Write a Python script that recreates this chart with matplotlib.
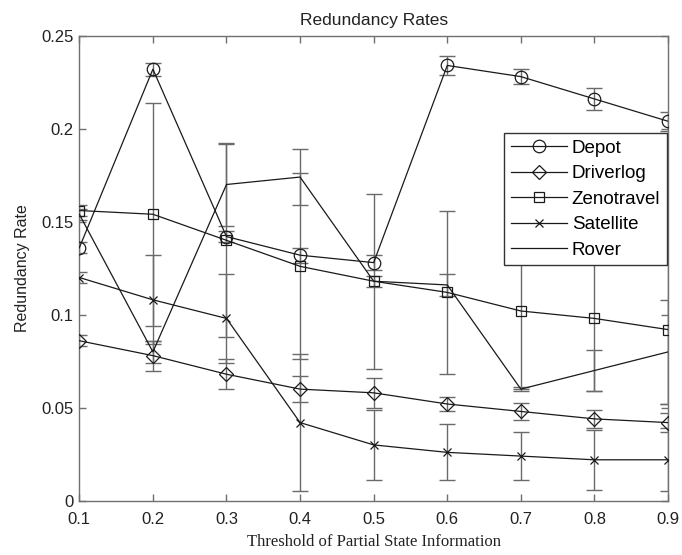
import matplotlib
matplotlib.use("Agg")
import matplotlib.pyplot as plt

thresholds = [0.1, 0.2, 0.3, 0.4, 0.5, 0.6, 0.7, 0.8, 0.9]

depot = [0.136, 0.232, 0.142, 0.132, 0.128, 0.234, 0.228, 0.216, 0.204]
depot_err = [0.003, 0.0035, 0.003, 0.004, 0.004, 0.005, 0.004, 0.006, 0.005]

driverlog = [0.086, 0.078, 0.068, 0.060, 0.058, 0.052, 0.048, 0.044, 0.042]
driverlog_err = [0.003, 0.008, 0.008, 0.007, 0.008, 0.004, 0.0045, 0.005, 0.005]

zenotravel = [0.156, 0.154, 0.140, 0.126, 0.118, 0.112, 0.102, 0.098, 0.092]
zenotravel_err = [0.003, 0.060, 0.052, 0.050, 0.047, 0.044, 0.042, 0.039, 0.040]

satellite = [0.120, 0.108, 0.098, 0.042, 0.030, 0.026, 0.024, 0.022, 0.022]
satellite_err = [0.003, 0.024, 0.024, 0.037, 0.019, 0.015, 0.013, 0.016, 0.017]

rover = [0.154, 0.080, 0.170, 0.174, 0.118, 0.116, 0.060, 0.070, 0.080]
rover_err = [0.003, 0.006, 0.0225, 0.015, 0.003, 0.006, 0.001, 0.011, 0.028]

series_names = ["Depot", "Driverlog", "Zenotravel", "Satellite", "Rover"]
ytick_vals = [0, 0.05, 0.1, 0.15, 0.2, 0.25]
ytick_labels = ["0", "0.05", "0.1", "0.15", "0.2", "0.25"]
xtick_labels = ["0.1", "0.2", "0.3", "0.4", "0.5", "0.6", "0.7", "0.8", "0.9"]

plt.rcParams['font.family'] = ['Liberation Sans', 'DejaVu Sans']

fig = plt.figure(figsize=(6.82, 5.55), dpi=100)
ax = fig.add_axes([0.1163, 0.0978, 0.8632, 0.8379])

line_col = '#1a1a1a'
err_col = '#6a6a6a'

data = [
    (depot, depot_err, 'o', 9),
    (driverlog, driverlog_err, 'D', 7),
    (zenotravel, zenotravel_err, 's', 7),
    (satellite, satellite_err, 'x', 6),
    (rover, rover_err, 'None', 6),
]

for (vals, errs, mk, ms), name in zip(data, series_names):
    ax.errorbar(thresholds, vals, yerr=errs, fmt='none', ecolor=err_col,
                elinewidth=1.0, capsize=5.8, capthick=1.0, zorder=2)
    ax.plot(thresholds, vals, color=line_col, linewidth=0.9, marker=mk,
            markersize=ms, markerfacecolor='none', markeredgecolor=line_col,
            markeredgewidth=0.9, label=name, zorder=3)

ax.set_xlim(0.1, 0.9)
ax.set_ylim(0, 0.25)
ax.set_xticks(thresholds)
ax.set_xticklabels(xtick_labels)
ax.set_yticks(ytick_vals)
ax.set_yticklabels(ytick_labels)

for s in ax.spines.values():
    s.set_color('#707070')
    s.set_linewidth(1.0)
ax.tick_params(direction='in', length=5, width=1.0, color='#707070',
               labelsize=12, labelcolor='#222222', top=True, right=True, pad=4)
ax.tick_params(axis='x', pad=8)

ax.set_title("Redundancy Rates", fontsize=12.5, color='#222222', pad=8)
ax.set_ylabel("Redundancy Rate", fontsize=11.5, color='#222222', labelpad=8)
ax.set_xlabel("Threshold of Partial State Information", fontsize=12,
              family=['Liberation Serif', 'DejaVu Serif'], color='#222222',
              labelpad=5)

leg = ax.legend(loc='upper right', bbox_to_anchor=(0.998, 0.791),
                fontsize=13.5, frameon=True, fancybox=False, framealpha=1,
                edgecolor='#333333', handlelength=3.0, borderpad=0.35,
                labelspacing=0.45, handletextpad=0.25, borderaxespad=0)
leg.get_frame().set_linewidth(1.0)
leg.set_zorder(10)

fig.savefig("out.png", dpi=100)
